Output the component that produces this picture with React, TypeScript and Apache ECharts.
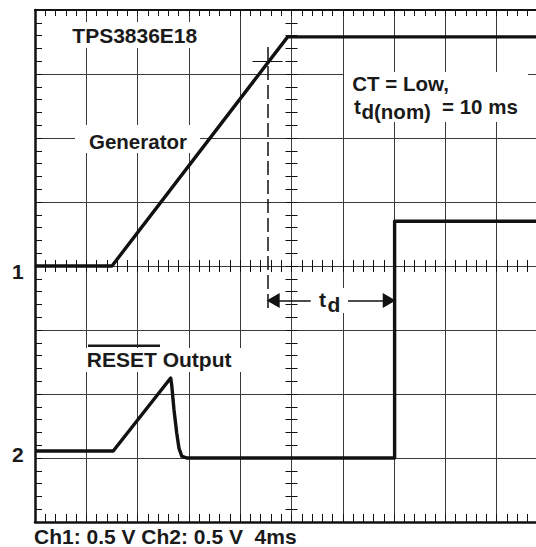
import React, { useEffect, useRef } from "react";
import * as echarts from "echarts";

// Oscilloscope frame: time in ms (4 ms/div, 10 div), amplitude in divisions (8 div)
const timeMin = -20;
const timeMax = 20;
const timeStep = 4;
const divMin = -4;
const divMax = 4;

// Ch1: Generator (0.5 V/div), ground marker "1" at 0 div
const ch1Time = [-20, -14.0, -0.3, 20];
const ch1Div = [0, 0, 3.58, 3.58];

// Ch2: RESET output (0.5 V/div)
const ch2Time = [-20, -13.9, -9.42, -9.34, -9.16, -8.95, -8.77, -8.56, -8.17, 8.04, 8.04, 20];
const ch2Div = [-2.89, -2.89, -1.75, -1.86, -2.25, -2.61, -2.85, -2.97, -3.0, -3.0, 0.7, 0.7];

// threshold cursor (dashed) and cross mark on the ramp
const thresholdTime = -1.86;
const thresholdTop = 3.42;
const thresholdBottom = -0.72;
const crossY = 3.2;
const crossFrom = -3.04;
const crossTo = -0.69;

// t_d arrow
const arrowY = -0.54;
const arrowLeft = [-1.43, 1.5];
const arrowRight = [4.41, 7.62];

// texts
const titleText = "TPS3836E18";
const generatorText = "Generator";
const ctText = "CT = Low,";
const tdNomMain = "t";
const tdNomSub = "d(nom)";
const tdNomValue = "= 10 ms";
const resetText = "RESET Output";
const tdMain = "t";
const tdSub = "d";
const ch1Marker = "1";
const ch2Marker = "2";
const scaleText = "Ch1: 0.5 V Ch2: 0.5 V  4ms";

const FONT = '"Liberation Sans", Arial, Helvetica, sans-serif';
const INK = "#1a1a1a";
const GRID = "#3a3a3a";

function txt(text: string, x: number, baseline: number, size: number) {
  return {
    type: "text",
    x,
    y: baseline - 0.3465 * size,
    z: 110,
    silent: true,
    style: {
      text,
      font: `bold ${size}px ${FONT}`,
      fill: INK,
      textAlign: "left",
      verticalAlign: "middle",
      whiteSpace: "pre",
    },
  };
}

function box(x: number, y: number, w: number, h: number) {
  return {
    type: "rect",
    z: 3,
    silent: true,
    shape: { x, y, width: w, height: h },
    style: { fill: "#ffffff" },
  };
}

const tickStyle = { color: "#111", width: 1 };

function xAxisDef(extra: any) {
  return {
    type: "value",
    min: timeMin,
    max: timeMax,
    interval: timeStep,
    axisLabel: { show: false },
    splitLine: { show: false },
    ...extra,
  };
}
function yAxisDef(extra: any) {
  return {
    type: "value",
    min: divMin,
    max: divMax,
    interval: 1,
    axisLabel: { show: false },
    splitLine: { show: false },
    ...extra,
  };
}

export default function App() {
  const ref = useRef<HTMLDivElement>(null);
  useEffect(() => {
    if (!ref.current) return;
    const chart = echarts.init(ref.current, undefined, { renderer: "svg" });
    const option: any = {
      animation: false,
      backgroundColor: "#ffffff",
      grid: { left: 35, top: 10, width: 513, height: 512, show: false, containLabel: false, outerBoundsMode: "none" },
      xAxis: [
        xAxisDef({
          position: "bottom",
          axisLine: { show: true, onZero: false, lineStyle: { color: "#111", width: 2.5 } },
          axisTick: { show: true, inside: true, length: 8, lineStyle: tickStyle },
          minorTick: { show: true, splitNumber: 5, length: 8, lineStyle: tickStyle },
          splitLine: { show: true, lineStyle: { color: GRID, width: 1 } },
        }),
        xAxisDef({
          position: "top",
          axisLine: { show: true, onZero: false, lineStyle: { color: "#111", width: 2 } },
          axisTick: { show: true, inside: true, length: 6, lineStyle: tickStyle },
          minorTick: { show: true, splitNumber: 5, length: 6, lineStyle: tickStyle },
        }),
        xAxisDef({
          position: "bottom",
          axisLine: { show: true, onZero: true, onZeroAxisIndex: 0, lineStyle: { color: GRID, width: 1 } },
          axisTick: { show: true, inside: true, length: 6, lineStyle: tickStyle },
          minorTick: { show: true, splitNumber: 5, length: 6, lineStyle: tickStyle },
        }),
        xAxisDef({
          position: "bottom",
          axisLine: { show: true, onZero: true, onZeroAxisIndex: 0, lineStyle: { color: GRID, width: 1 } },
          axisTick: { show: true, inside: false, length: 6, lineStyle: tickStyle },
          minorTick: { show: true, splitNumber: 5, length: 6, lineStyle: tickStyle },
        }),
      ],
      yAxis: [
        yAxisDef({
          position: "left",
          axisLine: { show: true, onZero: false, lineStyle: { color: "#111", width: 2.5 } },
          axisTick: { show: true, inside: true, length: 7, lineStyle: tickStyle },
          minorTick: { show: true, splitNumber: 5, length: 7, lineStyle: tickStyle },
          splitLine: { show: true, lineStyle: { color: GRID, width: 1 } },
        }),
        yAxisDef({
          position: "left",
          axisLine: { show: true, onZero: true, onZeroAxisIndex: 0, lineStyle: { color: GRID, width: 1 } },
          axisTick: { show: true, inside: true, length: 6, lineStyle: tickStyle },
          minorTick: { show: true, splitNumber: 5, length: 6, lineStyle: tickStyle },
        }),
        yAxisDef({
          position: "left",
          axisLine: { show: true, onZero: true, onZeroAxisIndex: 0, lineStyle: { color: GRID, width: 1 } },
          axisTick: { show: true, inside: false, length: 6, lineStyle: tickStyle },
          minorTick: { show: true, splitNumber: 5, length: 6, lineStyle: tickStyle },
        }),
      ],
      series: [
        {
          name: "Generator",
          type: "line",
          xAxisIndex: 0,
          yAxisIndex: 0,
          data: ch1Time.map((t, i) => [t, ch1Div[i]]),
          showSymbol: false,
          lineStyle: { color: "#111", width: 3.4, join: "round" },
          z: 5,
          markLine: {
            silent: true,
            symbol: "none",
            label: { show: false },
            data: [
              [
                { coord: [thresholdTime, thresholdTop], lineStyle: { type: [14, 5], width: 1.5, color: "#111" } },
                { coord: [thresholdTime, thresholdBottom] },
              ],
              [
                { coord: [crossFrom, crossY], lineStyle: { type: "solid", width: 1, color: "#111" } },
                { coord: [crossTo, crossY] },
              ],
            ],
          },
        },
        {
          name: "RESET",
          type: "line",
          xAxisIndex: 0,
          yAxisIndex: 0,
          data: ch2Time.map((t, i) => [t, ch2Div[i]]),
          showSymbol: false,
          lineStyle: { color: "#111", width: 3.4, join: "round" },
          z: 5,
          markLine: {
            silent: true,
            symbol: "none",
            label: { show: false },
            lineStyle: { type: "solid", width: 1.6, color: "#111" },
            itemStyle: { color: "#111" },
            data: [
              [
                { coord: [arrowLeft[0], arrowY], symbol: "triangle", symbolSize: [15, 13] },
                { coord: [arrowLeft[1], arrowY], symbol: "none" },
              ],
              [
                { coord: [arrowRight[0], arrowY], symbol: "none" },
                { coord: [arrowRight[1], arrowY], symbol: "triangle", symbolSize: [15, 13] },
              ],
            ],
          },
        },
      ],
      graphic: [
        box(63, 22, 144, 26),
        box(75, 125, 125, 28),
        box(344, 72, 184, 50),
        box(78, 348, 165, 24),
        box(311, 288, 37, 25),
        txt(titleText, 72.3, 42.7, 21),
        txt(generatorText, 89, 148.3, 20.5),
        txt(ctText, 352.3, 90.7, 20.5),
        txt(tdNomMain, 354, 113.3, 20.5),
        txt(tdNomSub, 361.5, 118.5, 20.5),
        txt(tdNomValue, 442, 113.3, 20.5),
        txt(resetText, 86.8, 366.7, 21),
        {
          type: "line",
          z: 110,
          silent: true,
          shape: { x1: 88, y1: 345.7, x2: 160, y2: 345.7 },
          style: { stroke: INK, lineWidth: 2.5 },
        },
        txt(tdMain, 319, 307, 21),
        txt(tdSub, 327.5, 312, 21),
        txt(ch1Marker, 12, 278.3, 21),
        txt(ch2Marker, 12, 462, 21),
        txt(scaleText, 34, 543.3, 21),
      ],
    };
    chart.setOption(option);
    return () => chart.dispose();
  }, []);
  return (
    <div
      ref={ref}
      style={{ position: "absolute", left: 0, top: 0, width: 536, height: 547, background: "#fff" }}
    />
  );
}
